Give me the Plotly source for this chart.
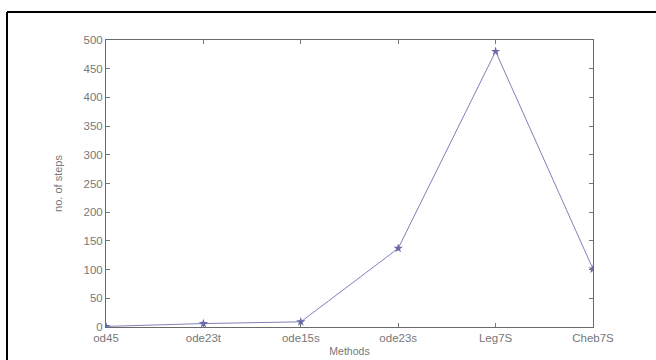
import plotly.graph_objects as go

methods = ["od45", "ode23t", "ode15s", "ode23s", "Leg7S", "Cheb7S"]
steps = [1, 6, 9, 137, 480, 101]
y_ticks = [0, 50, 100, 150, 200, 250, 300, 350, 400, 450, 500]

FONT = "Liberation Sans, Arial, sans-serif"

fig = go.Figure()
fig.add_trace(go.Scatter(
    x=list(range(len(methods))), y=steps, mode="lines+markers",
    line=dict(color="#8080bc", width=1),
    marker=dict(symbol="star", size=7, color="#6a6aaa"),
    showlegend=False,
))

axis_common = dict(
    showline=True, linecolor="#6a6a6a", linewidth=1, mirror="ticks",
    ticks="inside", ticklen=4, tickcolor="#777777", showgrid=False, zeroline=False,
    automargin=False,
    tickfont=dict(family=FONT, size=11.5, color="#777777"),
)
fig.update_xaxes(
    tickmode="array", tickvals=list(range(len(methods))), ticktext=methods,
    range=[0, len(methods) - 1],
    title=dict(text="Methods", font=dict(family=FONT, size=10.5, color="#777777"), standoff=4),
    **axis_common,
)
fig.update_yaxes(
    tickmode="array", tickvals=y_ticks, range=[0, 500],
    title=dict(text="no. of steps", font=dict(family=FONT, size=11, color="#777777"), standoff=18),
    **axis_common,
)

# frame of the surrounding table cell (left and top edges only), in plot-area fractions
frame_left = -99 / 487
frame_top = 1 + 28 / 287
frame_right = 1 + 63 / 487

fig.update_layout(
    width=656, height=360,
    margin=dict(l=106, r=63, t=40, b=33),
    paper_bgcolor="white", plot_bgcolor="white",
    shapes=[
        dict(type="line", xref="paper", yref="paper", x0=frame_left, x1=frame_right, y0=frame_top, y1=frame_top,
             line=dict(color="black", width=2)),
        dict(type="line", xref="paper", yref="paper", x0=frame_left, x1=frame_left, y0=-0.2, y1=frame_top,
             line=dict(color="black", width=2)),
    ],
)

fig.write_html("out.html", config={"displayModeBar": False},
               post_script="document.body.style.margin='0';document.body.style.overflow='hidden';")
